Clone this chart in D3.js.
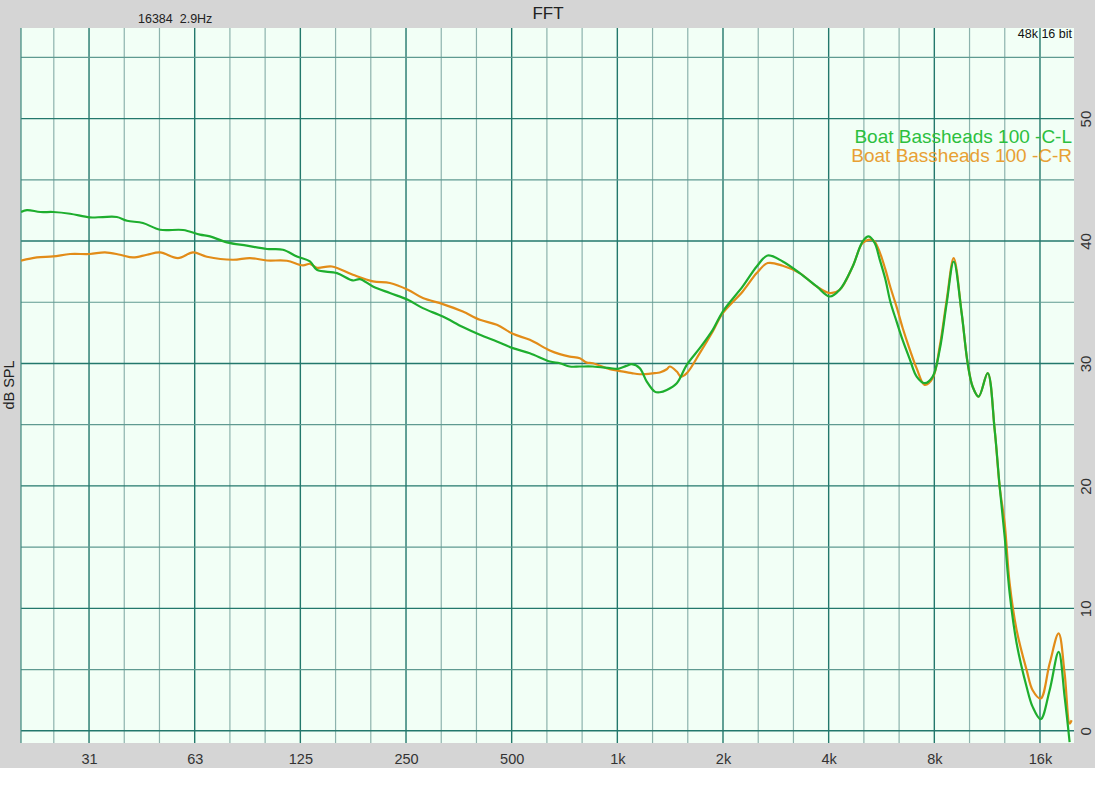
<!DOCTYPE html>
<html>
<head>
<meta charset="utf-8">
<script src="https://cdn.jsdelivr.net/npm/d3@7"></script>
<style>
  html, body { margin: 0; padding: 0; background: #ffffff; }
  svg { display: block; font-family: "Liberation Sans", Arial, sans-serif; }
</style>
</head>
<body>
<svg id="chart" width="1095" height="800"></svg>
<script>
// ---- data ----
const chartTitle = "FFT";
const infoLeft = "16384  2.9Hz";
const infoRight = "48k 16 bit";
const yAxisLabel = "dB SPL";
const seriesNames = ["Boat Bassheads 100 -C-L", "Boat Bassheads 100 -C-R"];

const freqTicks = [31.25, 62.5, 125, 250, 500, 1000, 2000, 4000, 8000, 16000];
const freqTickLabels = ["31", "63", "125", "250", "500", "1k", "2k", "4k", "8k", "16k"];
const dbTicks = [0, 10, 20, 30, 40, 50];

// Left channel (green)
const leftFreq = [20, 20.8, 22.7, 24.7, 27.6, 31.4, 34.2, 37.5, 40.1, 44.5, 49.8, 57.9, 64.7, 69.1, 77.2, 88.0, 100.4, 111.5, 122.2, 133.1, 139.3, 158.9, 176.4, 184.7, 201.2, 224.9, 253.0, 279.2, 318.3, 362.9, 405.8, 453.6, 503.7, 563.2, 642.1, 685.6, 732, 781.7, 851.3, 951.7, 1003, 1060, 1099, 1158, 1213, 1278, 1321, 1383, 1477, 1577, 1717, 1870, 1997, 2276, 2495, 2682, 2959, 3308, 3698, 4028, 4300, 4682, 5000, 5200, 5410, 5590, 5800, 6000, 6250, 6500, 6800, 7125, 7508, 7914, 8287, 8677, 9084, 9572, 9956, 10286, 10700, 11352, 11886, 12282, 12692, 13114, 13730, 14660, 15250, 16070, 17046, 18082, 18808, 19434];
const leftDb = [42.37, 42.53, 42.37, 42.37, 42.23, 41.93, 41.96, 41.96, 41.66, 41.47, 40.92, 40.90, 40.52, 40.38, 39.89, 39.62, 39.35, 39.29, 38.74, 38.33, 37.65, 37.38, 36.78, 36.89, 36.29, 35.75, 35.20, 34.52, 33.83, 32.97, 32.34, 31.79, 31.25, 30.84, 30.16, 30.02, 29.75, 29.75, 29.75, 29.62, 29.56, 29.8, 29.94, 29.62, 28.52, 27.70, 27.65, 27.84, 28.39, 29.89, 31.25, 32.75, 34.24, 36.29, 37.92, 38.82, 38.33, 37.38, 36.29, 35.47, 36.02, 37.92, 39.97, 40.38, 39.84, 38.5, 36.9, 35.0, 33.4, 31.9, 30.4, 28.93, 28.39, 28.93, 31.11, 34.93, 38.33, 34.1, 30.02, 28.1, 27.29, 29.21, 24.57, 19.93, 15.85, 11.22, 7.13, 3.58, 1.95, 0.94, 3.31, 6.44, 2.76, -0.92];

// Right channel (orange)
const rightFreq = [20, 22.2, 24.7, 27.6, 31.4, 34.7, 38.3, 41.7, 45.7, 49.8, 56.0, 61.8, 67.7, 80.3, 89.8, 100.4, 114.4, 127.1, 133.1, 139.3, 153.7, 176.4, 201.2, 224.9, 253.0, 279.2, 318.3, 362.9, 405.8, 453.6, 503.7, 563.2, 642.1, 685.6, 732, 781.7, 818.4, 851.3, 951.7, 1003, 1099, 1158, 1278, 1321, 1383, 1410, 1477, 1516, 1577, 1717, 1870, 1997, 2276, 2495, 2682, 2959, 3308, 3698, 4028, 4300, 4682, 5000, 5304, 5410, 5590, 5800, 6000, 6250, 6500, 6800, 7125, 7508, 7914, 8287, 8677, 9084, 9572, 9956, 10286, 10700, 11352, 11886, 12282, 12692, 13114, 13730, 14660, 15250, 16070, 17046, 18082, 18808, 19434, 19690];
const rightDb = [38.39, 38.66, 38.74, 38.94, 38.94, 39.07, 38.88, 38.66, 38.88, 39.07, 38.61, 39.07, 38.72, 38.47, 38.61, 38.41, 38.39, 38.01, 38.14, 37.82, 37.92, 37.24, 36.70, 36.57, 36.02, 35.34, 34.85, 34.24, 33.57, 33.16, 32.42, 31.93, 31.06, 30.76, 30.56, 30.43, 30.07, 30.02, 29.53, 29.42, 29.21, 29.12, 29.21, 29.26, 29.53, 29.75, 29.34, 28.93, 29.21, 30.84, 32.61, 34.11, 35.88, 37.38, 38.20, 37.98, 37.38, 36.29, 35.75, 36.02, 37.92, 39.84, 40.11, 39.95, 39.1, 37.7, 36.2, 34.6, 32.9, 31.2, 29.6, 28.25, 28.80, 31.38, 35.20, 38.61, 34.11, 30.02, 28.11, 27.29, 29.21, 24.57, 19.93, 16.94, 12.04, 8.22, 4.95, 3.31, 2.63, 5.49, 7.95, 4.68, 0.59, 0.86];

const seriesColors = ["#1eae2e", "#e28c18"];
const legendColors = ["#2cbf3e", "#e8a033"];

// ---- layout ----
const W = 1095, H = 800;
const plot = { left: 21, right: 1074, top: 28, bottom: 743 };

const svg = d3.select("#chart");

// gray panel and white strip
svg.append("rect").attr("x", 0).attr("y", 0).attr("width", W).attr("height", 768).attr("fill", "#d5d5d5");

const x = d3.scaleLog().domain([20, 20000]).range([plot.left, plot.right]);
const y = d3.scaleLinear().domain([-1, 57.4]).range([plot.bottom, plot.top]);

// plot background
svg.append("rect")
  .attr("x", plot.left).attr("y", plot.top)
  .attr("width", plot.right - plot.left).attr("height", plot.bottom - plot.top)
  .attr("fill", "#f2fff6");

// clip
svg.append("defs").append("clipPath").attr("id", "clip")
  .append("rect")
  .attr("x", plot.left).attr("y", plot.top)
  .attr("width", plot.right - plot.left).attr("height", plot.bottom - plot.top);

const grid = svg.append("g").attr("clip-path", "url(#clip)");

// vertical 1/3-octave grid lines (25 Hz ... 16 kHz)
const thirdOct = d3.range(-16, 13).map(n => 1000 * Math.pow(2, n / 3));
grid.selectAll("line.vg").data(thirdOct).enter().append("line")
  .attr("class", "vg")
  .attr("x1", d => x(d)).attr("x2", d => x(d))
  .attr("y1", plot.top).attr("y2", plot.bottom)
  .attr("stroke", (d, i) => ((i - 1) % 3 === 0) ? "#23786c" : "#8db3ad")
  .attr("stroke-width", (d, i) => ((i - 1) % 3 === 0) ? 1.4 : 1.2);

// horizontal 5 dB grid lines
const hLines = d3.range(0, 60, 5);
grid.selectAll("line.hg").data(hLines).enter().append("line")
  .attr("class", "hg")
  .attr("x1", plot.left).attr("x2", plot.right)
  .attr("y1", d => y(d)).attr("y2", d => y(d))
  .attr("stroke", d => d % 10 === 0 ? "#23786c" : "#5f9a91")
  .attr("stroke-width", d => d % 10 === 0 ? 1.4 : 1.2);

// left frame line
svg.append("line")
  .attr("x1", plot.left).attr("x2", plot.left)
  .attr("y1", plot.top).attr("y2", plot.bottom)
  .attr("stroke", "#3d8a7f").attr("stroke-width", 1.2);

// info text top-right inside plot
svg.append("text")
  .attr("x", plot.right - 2).attr("y", 38)
  .attr("text-anchor", "end")
  .attr("font-size", 12.5).attr("fill", "#111")
  .text(infoRight);

// curves
const line = d3.line()
  .x(d => x(d[0])).y(d => y(d[1]))
  .curve(d3.curveCatmullRom.alpha(0.5));

const series = [
  d3.zip(leftFreq, leftDb),
  d3.zip(rightFreq, rightDb)
];

const curves = svg.append("g").attr("clip-path", "url(#clip)");
// draw right first, then left on top
[1, 0].forEach(i => {
  curves.append("path")
    .datum(series[i])
    .attr("d", line)
    .attr("fill", "none")
    .attr("stroke", seriesColors[i])
    .attr("stroke-width", 2.2)
    .attr("stroke-linejoin", "round");
});

// legend
seriesNames.forEach((name, i) => {
  svg.append("text")
    .attr("x", plot.right - 2).attr("y", 143 + i * 19)
    .attr("text-anchor", "end")
    .attr("font-size", 19)
    .attr("fill", legendColors[i])
    .text(name);
});

// bottom axis
const xAxis = d3.axisBottom(x)
  .tickValues(freqTicks)
  .tickFormat((d, i) => freqTickLabels[i])
  .tickSize(0).tickPadding(0);
const gx = svg.append("g").attr("transform", `translate(0, ${plot.bottom + 11})`).call(xAxis);
gx.select(".domain").remove();
gx.selectAll("text")
  .attr("font-size", 14.5).attr("fill", "#333")
  .attr("font-family", "Liberation Sans, Arial, sans-serif");

// right axis (rotated labels)
const yAxis = d3.axisRight(y).tickValues(dbTicks).tickSize(0).tickPadding(0);
const gy = svg.append("g").attr("transform", `translate(${plot.right + 11}, 0)`).call(yAxis);
gy.select(".domain").remove();
gy.selectAll("text")
  .attr("font-size", 15).attr("fill", "#333")
  .attr("font-family", "Liberation Sans, Arial, sans-serif")
  .attr("x", 0).attr("dy", null)
  .attr("text-anchor", "middle")
  .attr("dominant-baseline", "central")
  .attr("transform", "rotate(-90)");

// title & info
svg.append("text")
  .attr("x", 548).attr("y", 19)
  .attr("text-anchor", "middle")
  .attr("font-size", 17).attr("fill", "#222")
  .text(chartTitle);

svg.append("text")
  .attr("x", 138).attr("y", 23)
  .attr("font-size", 12.5).attr("fill", "#222")
  .attr("xml:space", "preserve")
  .style("white-space", "pre")
  .text(infoLeft);

// y axis label
svg.append("text")
  .attr("transform", `translate(14, 385) rotate(-90)`)
  .attr("text-anchor", "middle")
  .attr("font-size", 14.5).attr("fill", "#222")
  .text(yAxisLabel);
</script>
</body>
</html>
